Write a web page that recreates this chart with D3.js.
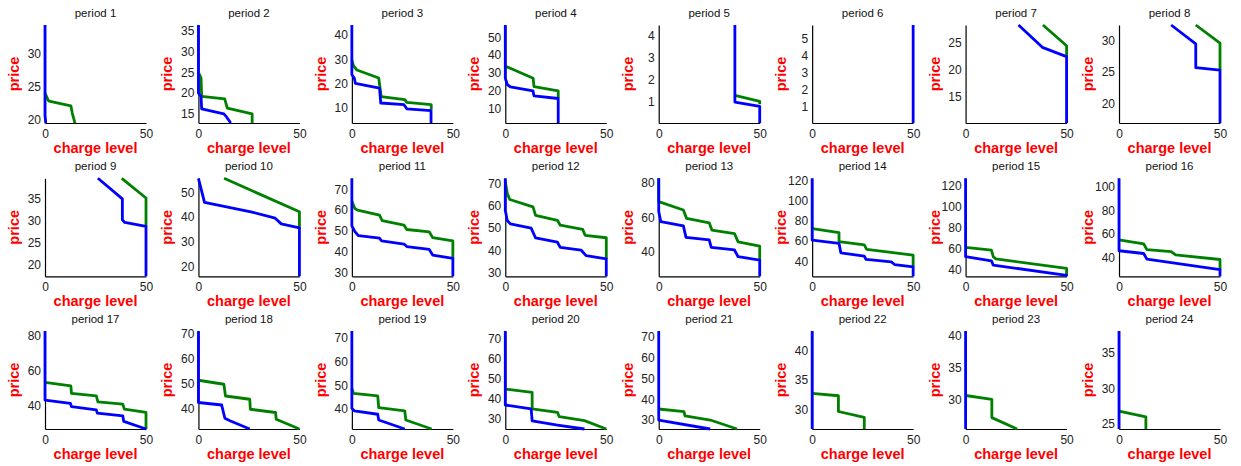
<!DOCTYPE html>
<html>
<head>
<meta charset="utf-8">
<script src="https://cdn.jsdelivr.net/npm/d3@7"></script>
<style>
  body { margin: 0; background: #fff; }
  svg { display: block; font-family: "Liberation Sans", Arial, sans-serif; }
</style>
</head>
<body>
<div id="chart"></div>
<script>
// titles of the 24 small plots
const periodLabels = d3.range(1, 25).map(d => "period " + d);

const xTicks = [0, 50];

// y tick labels, one list per period
const yTicks = [
  [20, 25, 30], [15, 20, 25, 30, 35], [10, 20, 30, 40], [10, 20, 30, 40, 50],
  [1, 2, 3, 4], [1, 2, 3, 4, 5], [15, 20, 25], [20, 25, 30],
  [20, 25, 30, 35], [20, 30, 40, 50], [30, 40, 50, 60, 70], [30, 40, 50, 60, 70],
  [40, 60, 80], [40, 60, 80, 100, 120], [40, 60, 80, 100, 120], [40, 60, 80, 100],
  [40, 60, 80], [40, 50, 60, 70], [40, 50, 60, 70], [30, 40, 50, 60, 70],
  [30, 40, 50, 60, 70], [30, 35, 40], [30, 35, 40], [25, 30, 35]
];

// blue curve: [charge level, price] per period
const blueSeries = [
  [[0,34.3],[0,20.6],[0.4,19.5]],
  [[0,36.4],[0,20],[1.3,19.2],[1.6,16.2],[12.6,15],[14,14.2],[16,12.8]],
  [[0,44.2],[0,23.6],[1.2,22.2],[1.7,20],[13.7,18],[14.3,11.8],[25.8,11.1],[27.2,9.4],[39.2,8.6],[39.2,3.5]],
  [[0,56.8],[0,27],[1,23.5],[2.5,22.2],[13.7,20],[14.2,17.2],[26.2,15.7],[26.2,2]],
  [[37.7,4.5],[37.7,1],[50,0.8],[50,0.05]],
  [[50,5.77],[50,0.07]],
  [[26.2,28.2],[38,24.1],[50,22.4],[50,10.2]],
  [[25.8,32.5],[38,29.5],[38,25.7],[50,25.3],[50,16.9]],
  [[26.2,39.7],[38.3,35],[38.3,30.2],[39.5,29.6],[50,28.7],[50,17.3]],
  [[0,55.7],[3,45.9],[26,42.1],[38,39.5],[41,37.2],[50,35.6],[50,15.9]],
  [[0,75.3],[0,52.4],[1.5,49.7],[3.3,47.7],[13.7,46.5],[14.7,45.2],[25.8,43.7],[27.2,42.5],[38.3,41.1],[40,38.4],[50,36.8],[50,28.2]],
  [[0,72.2],[0,57.8],[1,53.3],[2.5,51.8],[12.8,49.9],[15,45.5],[25.8,43.6],[27.2,41.3],[37.5,40.1],[40,37.6],[50,36.1],[50,28.35]],
  [[0,82.5],[0,63.3],[1,57.5],[12.2,55],[13.5,48.4],[25,46.9],[26,42.6],[37.5,41.1],[39.3,37.2],[50,35.3],[50,25.9]],
  [[0,122.3],[0,61],[13.3,57.7],[14.2,48.3],[25.8,45],[26.7,41.7],[39.2,39.3],[40.8,36.7],[50,34.3],[50,25]],
  [[0,127],[0,52],[12.8,48],[13.7,44],[50,34.2],[50,33.3]],
  [[0,107],[0,45.7],[12.2,43.4],[13.8,38.6],[50,29.8],[50,24.1]],
  [[0,82.7],[0,43.4],[12.6,41.5],[13.1,39.6],[25.4,37.8],[25.9,35.9],[38.5,34.4],[39,31.2],[50,26.9]],
  [[0,70.9],[0,42.3],[11.5,41.3],[13.1,36],[15.6,35],[25.4,31.7]],
  [[0,72.8],[0,40.3],[1.2,39.2],[12.8,37.8],[13.3,35.4],[26.2,31.6]],
  [[0,74],[0,36.7],[12.8,34.7],[13.3,28.7],[25.8,26.6],[39.2,24.6]],
  [[0,72.7],[0,30],[25.5,25.7]],
  [[0,43.4],[0,26.6]],
  [[0,40.8],[0,25.3]],
  [[0,38],[0,24.3]]
];

// green curve: [charge level, price] per period
const greenSeries = [
  [[0,24],[1.5,23],[2,22.8],[12.8,22.1],[13.5,21],[14.8,19.5]],
  [[0,25],[1.3,23.6],[1.6,19.2],[13,18.6],[14.3,16.4],[26.6,15],[26.6,12.8]],
  [[0,29.5],[0.8,27.3],[2.5,25.5],[13.3,22.2],[14.5,14.5],[26.2,13.2],[27.2,12.1],[39.3,11.1],[39.3,9]],
  [[0,33.8],[13.8,27],[14.2,22.3],[26.2,20],[26.2,16]],
  [[37.7,1.3],[50,1.03],[50,0.9]],
  [],
  [[38.3,28.2],[50,24.4],[50,22.4]],
  [[38,32.5],[50,29.6],[50,25.3]],
  [[38,39.7],[50,35.2],[50,28.7]],
  [[12.7,55.7],[50,42.1],[50,35.6]],
  [[0,64.3],[1.5,60.8],[2.8,60],[13.7,57.6],[15,54.9],[25.8,52.8],[27.2,50.7],[38.3,49.6],[40,46.8],[50,45.2],[50,36.8]],
  [[0,70.7],[1,65.4],[2.2,62.7],[13.7,59.4],[15,55.6],[25.8,53.4],[27.2,51.2],[38.3,49.4],[39.5,46.7],[50,45.6],[50,36.1]],
  [[0,82.5],[0,69],[12.2,64.2],[13.8,59.3],[25,56.8],[26.3,52.6],[37.5,50.6],[39.3,45.8],[50,43.3],[50,35.3]],
  [[0,73],[1,72.2],[13.3,68.3],[13.3,59.5],[25.8,56.3],[27,51.7],[50,46],[50,34.3]],
  [[0,61],[12.8,58.4],[13.7,52],[15,49.9],[50,40.8],[50,34.2]],
  [[0,55],[12.2,51.6],[13.8,46.7],[25.8,45],[28,42.2],[50,38.3],[50,29.8]],
  [[0,53.5],[12.8,51.4],[13.1,47.2],[25.4,45.8],[26.2,42.4],[38.5,41.1],[39.3,38.2],[50,36.3],[50,26.9]],
  [[0,51.2],[12.6,49.6],[13.4,44.9],[25.4,43.6],[25.7,39.6],[38.2,38.3],[38.5,35.6],[50,31.7]],
  [[0,48.6],[0.8,46.6],[12.8,45.5],[13.3,40.6],[26.2,39.2],[26.7,35.4],[39.5,31.6]],
  [[0,44.7],[13.3,43.1],[13.3,34.7],[25.8,33],[26.7,30.8],[39.2,28.8],[50,24.6]],
  [[0,35.3],[12.5,34],[13,32],[25.5,30],[38.8,25.7]],
  [[0,32.7],[13,32.3],[13,29.6],[25.8,28.6],[25.8,26.6]],
  [[0,30.6],[13,30],[13,27.1],[25.5,25.3]],
  [[0,26.8],[13.3,26],[13.3,24.3]]
];

const width = 1241, height = 466;
const colLeft = 45, colStep = 153.43, plotW = 101;
const rowTop = [25, 178.3, 331], plotH = 98;

const svg = d3.select("#chart").append("svg")
  .attr("width", width)
  .attr("height", height);

const line = (x, y) => d3.line().x(d => x(d[0])).y(d => y(d[1]));

periodLabels.forEach((label, i) => {
  const col = i % 8, row = Math.floor(i / 8);
  const g = svg.append("g")
    .attr("transform", `translate(${colLeft + col * colStep},${rowTop[row]})`);

  const x = d3.scaleLinear().domain(d3.extent(xTicks)).range([0, plotW]);
  const all = blueSeries[i].concat(greenSeries[i]);
  const y = d3.scaleLinear().domain(d3.extent(all, d => d[1])).range([plotH, 0]);

  // axes
  const xa = g.append("g")
    .attr("transform", `translate(0,${plotH})`)
    .call(d3.axisBottom(x).tickValues(xTicks).tickFormat(d3.format("~g"))
      .tickSize(0).tickSizeOuter(0).tickPadding(6));
  const ya = g.append("g")
    .call(d3.axisLeft(y).tickValues(yTicks[i]).tickFormat(d3.format("~g"))
      .tickSize(0).tickSizeOuter(0).tickPadding(4));
  [xa, ya].forEach(a => {
    a.attr("font-family", null).attr("font-size", 12);
    a.select(".domain").attr("stroke", "#000").attr("stroke-width", 1.2);
    a.selectAll("text").attr("fill", "#222");
  });

  // curves, blue on top
  g.append("path")
    .datum(greenSeries[i])
    .attr("d", line(x, y))
    .attr("fill", "none")
    .attr("stroke", "#008000")
    .attr("stroke-width", 2.8)
    .attr("stroke-linejoin", "round");
  g.append("path")
    .datum(blueSeries[i])
    .attr("d", line(x, y))
    .attr("fill", "none")
    .attr("stroke", "#0000ff")
    .attr("stroke-width", 2.8)
    .attr("stroke-linejoin", "round");

  // labels
  g.append("text")
    .attr("x", plotW / 2).attr("y", -8)
    .attr("text-anchor", "middle")
    .attr("font-size", 11.5)
    .attr("fill", "#111")
    .text(label);
  g.append("text")
    .attr("x", plotW / 2).attr("y", plotH + 30)
    .attr("text-anchor", "middle")
    .attr("font-size", 14.5)
    .attr("font-weight", "bold")
    .attr("fill", "#ff0000")
    .text("charge level");
  g.append("text")
    .attr("transform", `translate(-26,${plotH / 2}) rotate(-90)`)
    .attr("text-anchor", "middle")
    .attr("font-size", 14.5)
    .attr("font-weight", "bold")
    .attr("fill", "#ff0000")
    .text("price");
});
</script>
</body>
</html>
